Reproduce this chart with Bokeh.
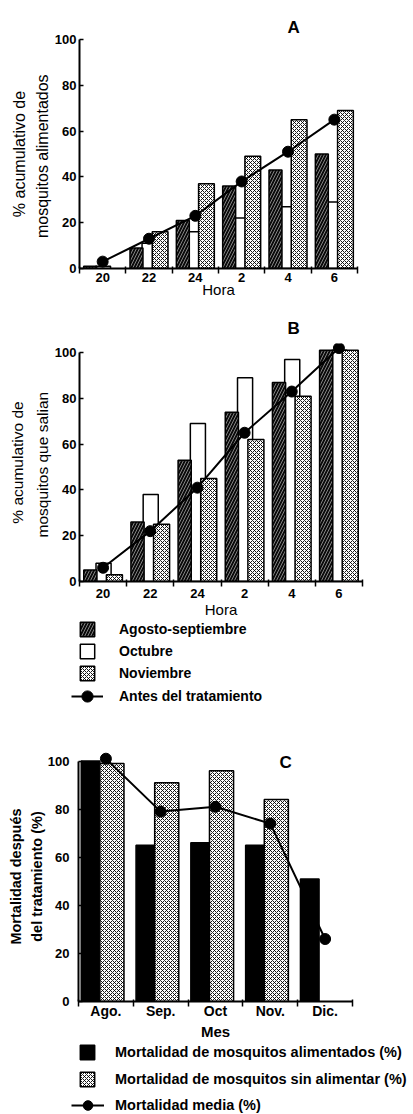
import math
from bokeh.plotting import figure
from bokeh.models import (ColumnDataSource, FixedTicker, LinearAxis, Legend,
                          LegendItem, Label, Range1d, Title)
from bokeh.layouts import column
from bokeh.transform import dodge
from bokeh.embed import file_html
from bokeh.resources import INLINE

NAN = float("nan")
FONT = "Liberation Sans"

# ---------------- data ----------------
horas = ["20", "22", "24", "2", "4", "6"]

# Panel A: % acumulativo de mosquitos alimentados
a_agosto_sept = [1, 9, 21, 36, 43, 50]
a_octubre = [1, 11, 16, 22, 27, 29]
a_noviembre = [NAN, 16, 37, 49, 65, 69]
a_antes = [3, 13, 23, 38, 51, 65]

# Panel B: % acumulativo de mosquitos que salian
b_agosto_sept = [5, 26, 53, 74, 87, 101]
b_octubre = [8, 38, 69, 89, 97, 101]
b_noviembre = [3, 25, 45, 62, 81, 101]
b_antes = [6, 22, 41, 65, 83, 102]

# Panel C: mortalidad despues del tratamiento
meses = ["Ago.", "Sep.", "Oct", "Nov.", "Dic."]
c_alimentados = [100, 65, 66, 65, 51]
c_sin_alimentar = [99, 91, 96, 84, NAN]
c_media = [101, 79, 81, 74, 26]

y_ticks = [0, 20, 40, 60, 80, 100]

# ---------------- styles ----------------
HATCHED = dict(fill_color="#0a0a0a", hatch_pattern="/", hatch_color="white",
               hatch_scale=6, hatch_weight=0.5, line_color="black", line_width=1.5)
WHITE = dict(fill_color="white", line_color="black", line_width=1.5)
DOTTED = dict(fill_color="white", hatch_pattern="x", hatch_color="black",
              hatch_scale=4, hatch_weight=0.9, line_color="black", line_width=1.5)
BLACK = dict(fill_color="black", line_color="black", line_width=1.5)
LINE = dict(line_color="black", line_width=2)
PTS = dict(size=11, fill_color="black", line_color="black")


def style_axes(p, labels, xlabel, xlabel_size, xlabel_style, xtick_size,
               ylab_inner, ylab_outer, ylab_size, ylab_style,
               ylabel_standoff, ylab_inner_standoff, ylab_outer_standoff,
               xlabel_standoff, xtick_standoff):
    n = len(labels)
    p.grid.visible = False
    p.outline_line_color = None
    xa = p.xaxis[0]
    xa.ticker = FixedTicker(ticks=list(range(n)),
                            minor_ticks=[i - 0.5 for i in range(n + 1)])
    xa.major_label_overrides = {i: lab for i, lab in enumerate(labels)}
    xa.major_tick_in = 0
    xa.major_tick_out = 0
    xa.minor_tick_in = 2
    xa.minor_tick_out = 5
    xa.minor_tick_line_width = 1.5
    xa.axis_line_width = 2
    xa.major_label_text_font = FONT
    xa.major_label_text_font_size = xtick_size
    xa.major_label_text_font_style = "bold"
    xa.major_label_text_color = "black"
    xa.major_label_standoff = xtick_standoff
    xa.axis_label = xlabel
    xa.axis_label_text_font = FONT
    xa.axis_label_text_font_size = xlabel_size
    xa.axis_label_text_font_style = xlabel_style
    xa.axis_label_text_color = "black"
    xa.axis_label_standoff = xlabel_standoff

    ya = p.yaxis[0]
    ya.ticker = FixedTicker(ticks=y_ticks)
    ya.bounds = (0, 100)
    ya.major_tick_in = 4
    ya.major_tick_out = 0
    ya.minor_tick_in = 0
    ya.minor_tick_out = 0
    ya.major_tick_line_width = 1.5
    ya.axis_line_width = 2
    ya.major_label_text_font = FONT
    ya.major_label_text_font_size = "13px"
    ya.major_label_text_font_style = "bold"
    ya.major_label_text_color = "black"
    ya.major_label_standoff = ylabel_standoff
    ya.axis_label = ylab_inner
    ya.axis_label_text_font = FONT
    ya.axis_label_text_font_size = ylab_size
    ya.axis_label_text_font_style = ylab_style
    ya.axis_label_text_color = "black"
    ya.axis_label_standoff = ylab_inner_standoff

    ya2 = LinearAxis(axis_label=ylab_outer, ticker=FixedTicker(ticks=[]),
                     bounds=(0, 100), axis_line_color=None,
                     major_tick_in=0, major_tick_out=0,
                     minor_tick_in=0, minor_tick_out=0,
                     major_label_standoff=0, major_label_text_font_size="0px",
                     axis_label_standoff=ylab_outer_standoff,
                     axis_label_text_font=FONT,
                     axis_label_text_font_size=ylab_size,
                     axis_label_text_font_style=ylab_style,
                     axis_label_text_color="black")
    p.add_layout(ya2, "left")


def legend_kw(size, standoff, glyph_w, glyph_h, spacing, loc):
    return dict(location=loc, orientation="vertical",
                glyph_width=glyph_w, glyph_height=glyph_h, label_height=glyph_h,
                spacing=spacing, label_standoff=standoff, padding=0, margin=0,
                border_line_alpha=0, background_fill_alpha=0,
                label_text_font=FONT, label_text_font_size=size,
                label_text_font_style="bold", label_text_color="black")


def legend_fig(height, x_end):
    # hidden proxy renderers: only the legend entries are shown
    f = figure(width=413, height=height, x_range=Range1d(-0.5, x_end),
               y_range=Range1d(0, 105), output_backend="svg",
               toolbar_location=None, min_border=0, frame_align=False)
    f.axis.visible = False
    f.grid.visible = False
    f.outline_line_color = None
    return f


def add_title(p, text, offset, standoff):
    p.add_layout(Title(text=text, align="left", offset=offset, standoff=standoff,
                       text_font=FONT, text_font_size="17px",
                       text_font_style="bold", text_color="black"), "above")


def hour_panel(letter, ag, oc, no, an, ylab_outer, ylab_inner, ylab_size,
               height, b_top, b_right, y_end, xtick_standoff, xlabel_standoff,
               outer_standoff, title_standoff):
    src = ColumnDataSource(dict(x=list(range(len(horas))), ag=ag, oc=oc,
                                no=no, an=an))
    p = figure(width=413, height=height, x_range=Range1d(-0.5, 5.5),
               y_range=Range1d(0, y_end), output_backend="svg",
               toolbar_location=None, min_border_left=79,
               min_border_right=b_right, min_border_top=b_top,
               min_border_bottom=10, frame_align=False)
    p.vbar(x=dodge("x", 0.01), top="oc", width=0.32, source=src, **WHITE)
    p.vbar(x=dodge("x", -0.27), top="ag", width=0.28, source=src, **HATCHED)
    p.vbar(x=dodge("x", 0.24), top="no", width=0.34, source=src, **DOTTED)
    p.line("x", "an", source=src, **LINE)
    p.scatter("x", "an", source=src, **PTS)
    style_axes(p, horas, "Hora", "15px", "normal", "13px", ylab_inner,
               ylab_outer, ylab_size, "normal", 3, 1, outer_standoff,
               xlabel_standoff, xtick_standoff)
    add_title(p, letter, 208, title_standoff)
    return p, src


pA, srcA = hour_panel("A", a_agosto_sept, a_octubre, a_noviembre, a_antes,
                      "% acumulativo de", "mosquitos  alimentados", "16px",
                      300, 39, 56, 100, -1, -4, 3, 6)
pB, srcB = hour_panel("B", b_agosto_sept, b_octubre, b_noviembre, b_antes,
                      "% acumulativo de", "mosquitos  que salian", "15.5px",
                      320, 43, 51, 104, 2, 0, 5, 11)

# legend of panels A and B
legB = legend_fig(92, 5.5)
e_ag = legB.vbar(x="x", top="ag", width=0.3, source=srcB, visible=False, **HATCHED)
e_oc = legB.vbar(x="x", top="oc", width=0.3, source=srcB, visible=False, **WHITE)
e_no = legB.vbar(x="x", top="no", width=0.3, source=srcB, visible=False, **DOTTED)
e_ln = legB.line("x", "an", source=srcB, visible=False, **LINE)
e_pt = legB.scatter("x", "an", source=srcB, visible=False, **PTS)
legB.add_layout(Legend(items=[LegendItem(label="Agosto-septiembre", renderers=[e_ag]),
                              LegendItem(label="Octubre", renderers=[e_oc]),
                              LegendItem(label="Noviembre", renderers=[e_no])],
                       **legend_kw("14px", 23, 18, 18, 4, (78, 30))))
legB.add_layout(Legend(items=[LegendItem(label="Antes del tratamiento",
                                         renderers=[e_ln, e_pt])],
                       **legend_kw("14px", 16, 32, 28, 4, (71, 2))))

# ---------------- panel C ----------------
srcC = ColumnDataSource(dict(x=list(range(len(meses))), ali=c_alimentados,
                             sin=c_sin_alimentar, med=c_media))
pC = figure(width=413, height=330, x_range=Range1d(-0.5, 4.5),
            y_range=Range1d(0, 104), output_backend="svg",
            toolbar_location=None, min_border_left=78, min_border_right=61,
            min_border_top=39, min_border_bottom=10, frame_align=False)
pC.vbar(x=dodge("x", -0.28), top="ali", width=0.34, source=srcC, **BLACK)
pC.vbar(x=dodge("x", 0.11), top="sin", width=0.44, source=srcC, **DOTTED)
pC.line("x", "med", source=srcC, **LINE)
pC.scatter("x", "med", source=srcC, **PTS)
style_axes(pC, meses, "Mes", "15px", "bold", "14px", "del tratamiento (%)",
           "Mortalidad después", "14.5px", "bold", 9, 0, 2, 1, -4)
pC.add_layout(Label(x=3.28, y=99.3, text="C", text_align="center",
                    text_baseline="alphabetic", text_font=FONT,
                    text_font_size="17px", text_font_style="bold",
                    text_color="black"))

legC = legend_fig(72, 4.5)
f_ali = legC.vbar(x="x", top="ali", width=0.3, source=srcC, visible=False, **BLACK)
f_sin = legC.vbar(x="x", top="sin", width=0.3, source=srcC, visible=False, **DOTTED)
f_ln = legC.line("x", "med", source=srcC, visible=False, **LINE)
f_pt = legC.scatter("x", "med", source=srcC, visible=False, **PTS)
legC.add_layout(Legend(items=[LegendItem(label="Mortalidad de mosquitos alimentados (%)", renderers=[f_ali]),
                              LegendItem(label="Mortalidad de mosquitos sin alimentar (%)", renderers=[f_sin])],
                       **legend_kw("14.5px", 19, 18, 18, 9, (78, 26))))
legC.add_layout(Legend(items=[LegendItem(label="Mortalidad media (%)",
                                         renderers=[f_ln, f_pt])],
                       **legend_kw("14.5px", 11, 33, 24, 9, (71, -3))))

layout = column(pA, pB, legB, pC, legC, spacing=0)
open("out.html", "w").write(file_html(layout, INLINE))
